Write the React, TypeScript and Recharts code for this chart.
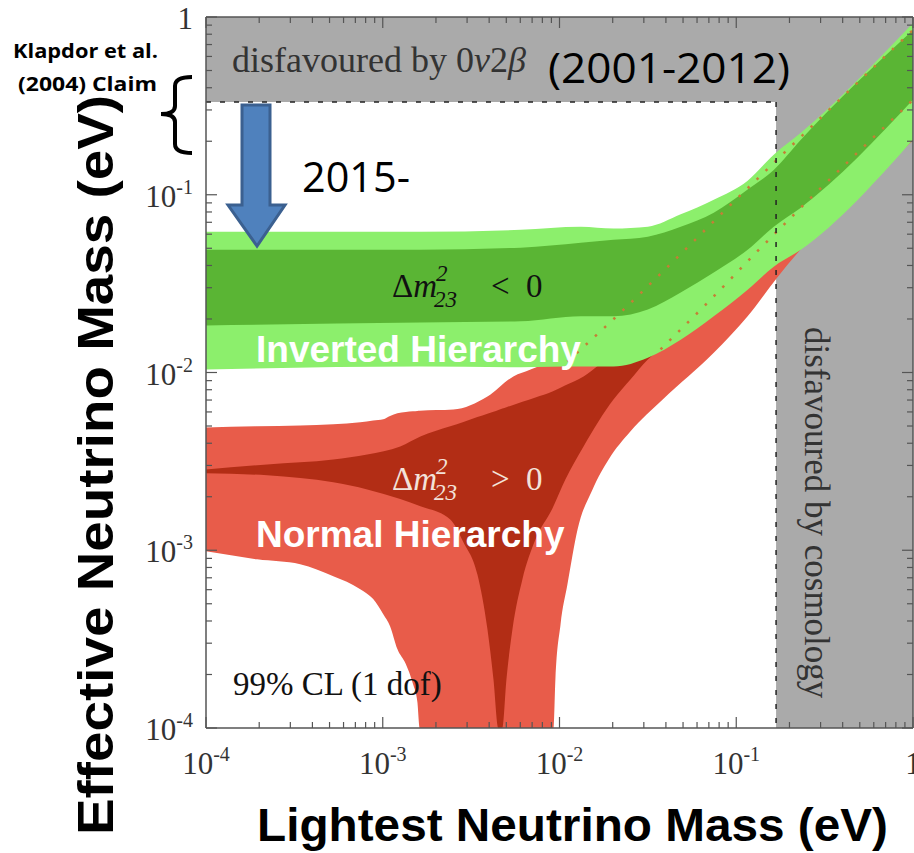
import { ComposedChart, Area, Line, XAxis, YAxis } from 'recharts';

const WIDTH = 914;
const HEIGHT = 853;

// lightest neutrino mass grid (eV) for the inverted-hierarchy bands
const IH_MASS = [1e-4, 1.62e-3, 6.03e-3, 0.0132, 0.0202, 0.0316, 0.0485, 0.0746, 0.116, 0.163, 0.232, 1];
const IH_OUTER_LOW = [0.0104, 0.0108, 0.0107, 0.0108, 0.0108, 0.0121, 0.0153, 0.0207, 0.0292, 0.0394, 0.0491, 0.204];
const IH_OUTER_HIGH = [0.0619, 0.0619, 0.0635, 0.0661, 0.0646, 0.0661, 0.0776, 0.0938, 0.12, 0.168, 0.223, 0.925];
const IH_INNER_LOW = [0.0184, 0.0191, 0.0194, 0.0207, 0.0207, 0.0226, 0.0282, 0.0365, 0.0491, 0.0661, 0.0845, 0.342];
const IH_INNER_HIGH = [0.0491, 0.0491, 0.0504, 0.0537, 0.0558, 0.0581, 0.0661, 0.0793, 0.107, 0.138, 0.204, 0.845];

// normal hierarchy, 99% CL band
const NH_OUTER_MASS = [
  1e-4, 1.95e-4, 3.41e-4, 5.25e-4, 7.46e-4, 8.83e-4, 1.007e-3, 1.1e-3, 1.21e-3, 1.35e-3, 1.48e-3, 1.57e-3,
  1.62e-3, 2.51e-3, 3.91e-3, 5.48e-3, 6.86e-3, 9.25e-3, 9.48e-3, 0.01014, 0.01109, 0.01265, 0.01538,
  0.01897, 0.02523, 0.03837, 0.0746, 0.116, 0.172, 1,
];
const NH_OUTER_LOW = [
  9.86e-4, 8.89e-4, 8.34e-4, 7.14e-4, 6.04e-4, 5.31e-4, 4.37e-4, 3.74e-4, 2.78e-4, 2.29e-4, 1.78e-4, 1.4e-4,
  1e-4, 1e-4, 1e-4, 1e-4, 1e-4, 1e-4, 1.88e-4, 3.84e-4, 6.44e-4, 1.31e-3, 2.2e-3,
  3.24e-3, 4.67e-3, 7.05e-3, 0.0129, 0.0207, 0.0346, 0.201,
];
const NH_OUTER_HIGH = [
  4.91e-3, 4.98e-3, 5.04e-3, 5.11e-3, 5.25e-3, 5.37e-3, 5.45e-3, 5.69e-3, 5.89e-3, 6.0e-3, 6.05e-3, 6.08e-3,
  6.1e-3, 6.19e-3, 7.33e-3, 9.51e-3, 0.0104, 0.012, 0.0122, 0.0126, 0.0132, 0.0141, 0.0166,
  0.0191, 0.024, 0.0339, 0.0562, 0.0794, 0.11, 0.562,
];

// normal hierarchy, inner band (cancellation funnel)
const NH_INNER_MASS = [
  1e-4, 2.22e-4, 5.25e-4, 8.17e-4, 1.256e-3, 1.633e-3, 2.41e-3, 2.86e-3, 3.43e-3, 3.91e-3, 4.23e-3, 4.51e-3,
  4.75e-3, 5.01e-3, 5.42e-3, 6.17e-3, 7.31e-3, 9.12e-3, 0.01081, 0.01368, 0.0202, 0.0252, 0.0315,
  0.0426, 0.0631, 0.121, 0.232, 1,
];
const NH_INNER_LOW = [
  2.71e-3, 2.64e-3, 2.41e-3, 2.2e-3, 1.94e-3, 1.77e-3, 1.49e-3, 1.11e-3, 7.33e-4, 3.6e-4, 1.88e-4, 1e-4,
  1e-4, 1.88e-4, 3.6e-4, 6.87e-4, 1.15e-3, 1.72e-3, 2.51e-3, 3.84e-3, 7.05e-3, 9.14e-3, 0.0118,
  0.0151, 0.0209, 0.0355, 0.0649, 0.251,
];
const NH_INNER_HIGH = [
  2.85e-3, 3.04e-3, 3.24e-3, 3.46e-3, 3.84e-3, 4.37e-3, 4.98e-3, 5.27e-3, 5.61e-3, 5.86e-3, 6.01e-3, 6.15e-3,
  6.27e-3, 6.38e-3, 6.55e-3, 6.84e-3, 7.24e-3, 7.82e-3, 8.49e-3, 9.51e-3, 0.013, 0.0157, 0.0191,
  0.0252, 0.0355, 0.0596, 0.1, 0.447,
];

// dotted contours running under the green band
const EDGE_UPPER_MASS = [0.01109, 0.0221, 0.0426, 0.0838, 0.163, 1];
const EDGE_UPPER = [0.01153, 0.0217, 0.0409, 0.0793, 0.151, 0.845];
const EDGE_LOWER_MASS = [0.0373, 0.0716, 0.138, 0.226, 1];
const EDGE_LOWER = [0.0135, 0.0257, 0.0504, 0.0824, 0.342];

// excluded regions
const DBD_LIMIT = 0.332;
const COSMO_LIMIT = 0.168;

const DECADES = [1e-4, 1e-3, 1e-2, 1e-1, 1];
const MINOR = [2, 3, 4, 5, 6, 7, 8, 9];
const TICKS = [
  ...DECADES,
  ...DECADES.slice(0, -1).flatMap((d) => MINOR.map((m) => m * d)),
].sort((a, b) => a - b);

const band = (xs: number[], lo: number[], hi: number[]) => xs.map((x, i) => ({ x, r: [lo[i], hi[i]] }));
const curve = (xs: number[], ys: number[]) => xs.map((x, i) => ({ x, y: ys[i] }));

const ihOuter = band(IH_MASS, IH_OUTER_LOW, IH_OUTER_HIGH);
const ihInner = band(IH_MASS, IH_INNER_LOW, IH_INNER_HIGH);
const nhOuter = band(NH_OUTER_MASS, NH_OUTER_LOW, NH_OUTER_HIGH);
const nhInner = band(NH_INNER_MASS, NH_INNER_LOW, NH_INNER_HIGH);
const edgeUpper = curve(EDGE_UPPER_MASS, EDGE_UPPER);
const edgeLower = curve(EDGE_LOWER_MASS, EDGE_LOWER);
const dbdBand = [
  { x: 1e-4, r: [DBD_LIMIT, 1] },
  { x: 1, r: [DBD_LIMIT, 1] },
];
const cosmoBand = [
  { x: COSMO_LIMIT, r: [1e-4, 1] },
  { x: 1, r: [1e-4, 1] },
];
const dbdLine = [
  { x: 1e-4, y: DBD_LIMIT },
  { x: COSMO_LIMIT, y: DBD_LIMIT },
];
const cosmoLine = [
  { x: COSMO_LIMIT, y: DBD_LIMIT },
  { x: COSMO_LIMIT, y: 1e-4 },
];

const AXIS = '#555';
const SERIF = '"Liberation Serif", "DejaVu Serif", serif';
const SANS = '"Liberation Sans", Arial, sans-serif';
const SOFT = '"Open Sans", "Liberation Sans", sans-serif';

function PowerLabel({ x, y, value, anchor }: { x: number; y: number; value: number; anchor: 'middle' | 'end' }) {
  const e = Math.round(Math.log10(value));
  return (
    <text x={x} y={y} textAnchor={anchor} fontFamily={SERIF} fontSize={31} fill="#333" stroke="none">
      {e === 0 ? (
        '1'
      ) : (
        <>
          <tspan>10</tspan>
          <tspan dy={-13} fontSize={20}>{`-${-e}`}</tspan>
        </>
      )}
    </text>
  );
}

function LogTick(props: any) {
  const { x, y, payload, side } = props;
  const v = payload.value;
  const lg = Math.log10(v);
  const major = Math.abs(lg - Math.round(lg)) < 1e-6;
  const len = major ? 11 : 6;
  let line;
  if (side === 'bottom') line = <line x1={x} y1={y} x2={x} y2={y - len} />;
  else if (side === 'top') line = <line x1={x} y1={y} x2={x} y2={y + len} />;
  else if (side === 'left') line = <line x1={x} y1={y} x2={x + len} y2={y} />;
  else line = <line x1={x} y1={y} x2={x - len} y2={y} />;
  return (
    <g>
      <g stroke={AXIS} strokeWidth={1.2}>{line}</g>
      {major && side === 'bottom' && <PowerLabel x={x} y={y + 46} value={v} anchor="middle" />}
      {major && side === 'left' && <PowerLabel x={x - 13} y={y + 12} value={v} anchor="end" />}
    </g>
  );
}

function DeltaM({ x, y, sign, color }: { x: number; y: number; sign: string; color: string }) {
  return (
    <g fill={color} fontFamily={SERIF}>
      <text x={x} y={y} fontSize={33}>
        Δ<tspan fontStyle="italic">m</tspan>
      </text>
      <text x={x + 44} y={y - 16} fontSize={23} fontStyle="italic">2</text>
      <text x={x + 42} y={y + 10} fontSize={23} fontStyle="italic">23</text>
      <text x={x + 99} y={y} fontSize={33}>{sign}</text>
      <text x={x + 134} y={y} fontSize={33}>0</text>
    </g>
  );
}

export default function App() {
  return (
    <div style={{ position: 'absolute', left: 0, top: 0, width: WIDTH, height: HEIGHT, background: '#fff' }}>
      <ComposedChart width={WIDTH} height={HEIGHT} margin={{ top: 0, right: 0, bottom: 0, left: 0 }}>
        <XAxis
          dataKey="x"
          type="number"
          scale="log"
          domain={[1e-4, 1]}
          allowDataOverflow
          ticks={TICKS}
          interval={0}
          height={125}
          tickSize={0}
          tickMargin={0}
          tickLine={false}
          axisLine={{ stroke: AXIS, strokeWidth: 1.5 }}
          tick={(p: any) => <LogTick {...p} side="bottom" />}
        />
        <XAxis
          xAxisId="top"
          orientation="top"
          dataKey="x"
          type="number"
          scale="log"
          domain={[1e-4, 1]}
          allowDataOverflow
          ticks={TICKS}
          interval={0}
          height={17}
          tickSize={0}
          tickMargin={0}
          tickLine={false}
          axisLine={{ stroke: AXIS, strokeWidth: 1.5 }}
          tick={(p: any) => <LogTick {...p} side="top" />}
        />
        <YAxis
          type="number"
          scale="log"
          domain={[1e-4, 1]}
          allowDataOverflow
          ticks={TICKS}
          interval={0}
          width={206}
          tickSize={0}
          tickMargin={0}
          tickLine={false}
          axisLine={{ stroke: AXIS, strokeWidth: 1.5 }}
          tick={(p: any) => <LogTick {...p} side="left" />}
        />
        <YAxis
          yAxisId="right"
          orientation="right"
          type="number"
          scale="log"
          domain={[1e-4, 1]}
          allowDataOverflow
          ticks={TICKS}
          interval={0}
          width={1}
          tickSize={0}
          tickMargin={0}
          tickLine={false}
          axisLine={{ stroke: AXIS, strokeWidth: 1.5 }}
          tick={(p: any) => <LogTick {...p} side="right" />}
        />

        {/* disfavoured regions */}
        <Area data={dbdBand} dataKey="r" type="linear" fill="#aaaaaa" fillOpacity={1} stroke="none" isAnimationActive={false} />
        <Area data={cosmoBand} dataKey="r" type="linear" fill="#aaaaaa" fillOpacity={1} stroke="none" isAnimationActive={false} />

        {/* normal hierarchy */}
        <Area data={nhOuter} dataKey="r" type="monotoneX" fill="#e85c4a" fillOpacity={1} stroke="none" isAnimationActive={false} />
        <Area data={nhInner} dataKey="r" type="monotoneX" fill="#b22d15" fillOpacity={1} stroke="none" isAnimationActive={false} />

        {/* inverted hierarchy */}
        <Area data={ihOuter} dataKey="r" type="monotoneX" fill="#8cef6c" fillOpacity={1} stroke="none" isAnimationActive={false} />
        <Area data={ihInner} dataKey="r" type="monotoneX" fill="#5ab534" fillOpacity={1} stroke="none" isAnimationActive={false} />

        <Line data={edgeUpper} dataKey="y" type="monotoneX" stroke="#c47f36" strokeWidth={2.5} strokeDasharray="2.5 10" dot={false} isAnimationActive={false} />
        <Line data={edgeLower} dataKey="y" type="monotoneX" stroke="#c47f36" strokeWidth={2.5} strokeDasharray="2.5 10" dot={false} isAnimationActive={false} />

        <Line data={dbdLine} dataKey="y" type="linear" stroke="#222" strokeWidth={1.5} strokeDasharray="5 9" dot={false} isAnimationActive={false} />
        <Line data={cosmoLine} dataKey="y" type="linear" stroke="#222" strokeWidth={1.5} strokeDasharray="5 9" dot={false} isAnimationActive={false} />
      </ComposedChart>

      <svg width={WIDTH} height={HEIGHT} style={{ position: 'absolute', left: 0, top: 0, pointerEvents: 'none' }}>
        <text x={232} y={72} fontFamily={SERIF} fontSize={36} fill="#333">
          disfavoured by 0<tspan fontStyle="italic">ν</tspan>2<tspan fontStyle="italic">β</tspan>
        </text>
        <text transform="translate(805,327) rotate(90)" fontFamily={SERIF} fontSize={35} fill="#333">
          disfavoured by cosmology
        </text>
        <text x={233} y={695} fontFamily={SERIF} fontSize={33} fill="#111">
          99% CL (1 dof)
        </text>

        <DeltaM x={392} y={297} sign="<" color="#111" />
        <DeltaM x={392} y={490} sign=">" color="#f3e2da" />

        <text x={256} y={362} fontFamily={SANS} fontWeight="bold" fontSize={37} fill="#fff">
          Inverted Hierarchy
        </text>
        <text x={256} y={547} fontFamily={SANS} fontWeight="bold" fontSize={37} fill="#fff">
          Normal Hierarchy
        </text>

        <text x={548} y={83} fontFamily={SOFT} fontSize={42} fill="#000" textLength={242} lengthAdjust="spacingAndGlyphs">
          (2001-2012)
        </text>
        <text x={302} y={192} fontFamily={SOFT} fontSize={42} fill="#000" textLength={108} lengthAdjust="spacingAndGlyphs">
          2015-
        </text>
        <text x={13} y={58} fontFamily={SOFT} fontWeight="bold" fontSize={19} fill="#000" textLength={145} lengthAdjust="spacingAndGlyphs">
          Klapdor et al.
        </text>
        <text x={18} y={91} fontFamily={SOFT} fontWeight="bold" fontSize={19} fill="#000" textLength={139} lengthAdjust="spacingAndGlyphs">
          (2004) Claim
        </text>

        <path
          d="M 192 77 Q 175 77 175 86 L 175 106 Q 175 114 161 114 Q 175 114 175 122 L 175 144 Q 175 153 192 153"
          fill="none"
          stroke="#000"
          strokeWidth={4}
        />
        <polygon
          points="242,105 270,105 270,205 285,205 257,246 228,205 242,205"
          fill="#4f81bd"
          stroke="#3b6090"
          strokeWidth={3}
          strokeLinejoin="miter"
        />

        <text
          transform="translate(113,465) rotate(-90)"
          textAnchor="middle"
          fontFamily={SANS}
          fontWeight="bold"
          fontSize={50}
          fill="#000"
          textLength={740}
          lengthAdjust="spacingAndGlyphs"
        >
          Effective Neutrino Mass (eV)
        </text>
        <text x={257} y={841} fontFamily={SANS} fontWeight="bold" fontSize={46} fill="#000" textLength={631} lengthAdjust="spacingAndGlyphs">
          Lightest Neutrino Mass (eV)
        </text>
      </svg>
    </div>
  );
}
